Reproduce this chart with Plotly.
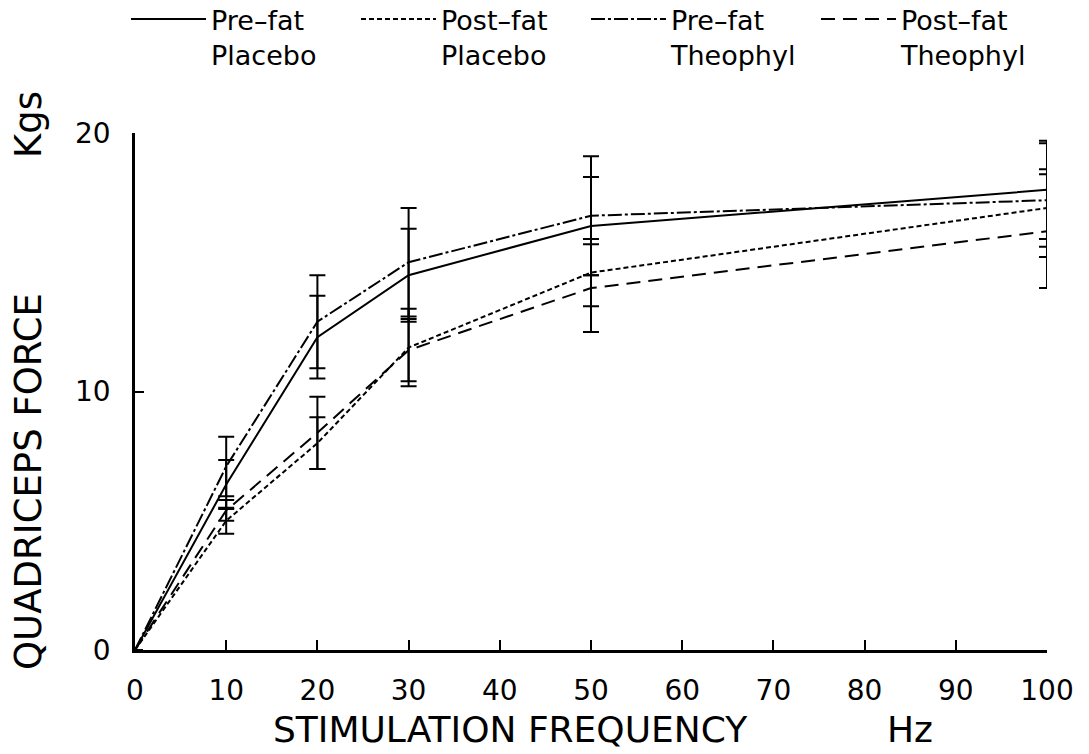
import plotly.graph_objects as go

freq = [0, 10, 20, 30, 50, 100]

pre_placebo = [0, 6.4, 12.1, 14.5, 16.4, 17.8]
pre_placebo_err = [None, 0.95, 1.6, 1.8, 1.9, 1.9]

post_placebo = [0, 5.0, 8.0, 11.7, 14.6, 17.1]
post_placebo_err = [None, 0.5, 1.0, 1.5, 1.3, 1.5]

pre_theo = [0, 7.1, 12.7, 15.0, 16.8, 17.4]
pre_theo_err = [None, 1.15, 1.8, 2.1, 2.3, 2.2]

post_theo = [0, 5.4, 8.4, 11.6, 14.0, 16.2]
post_theo_err = [None, 0.4, 1.4, 1.2, 1.7, 2.2]

series = [
    ("Pre\u2013fat<br>Placebo", pre_placebo, pre_placebo_err, "solid"),
    ("Post\u2013fat<br>Placebo", post_placebo, post_placebo_err, "5px,3px"),
    ("Pre\u2013fat<br>Theophyl", pre_theo, pre_theo_err, "14px,3px,3px,3px"),
    ("Post\u2013fat<br>Theophyl", post_theo, post_theo_err, "14px,8px"),
]

FONT = "DejaVu Sans"

# plot area in pixels: x 135..1047, y 133..650
L, R, T, B = 135, 42, 133, 104
PW, PH = 1089 - L - R, 754 - T - B

fig = go.Figure()
for name, vals, errs, dash in series:
    fig.add_trace(go.Scatter(
        x=freq, y=vals, name=name, mode="lines",
        line=dict(color="black", width=2, dash=dash),
        error_y=dict(type="data", array=errs, symmetric=True,
                     color="black", thickness=2, width=8),
    ))

def px_x(p):
    return (p - L) / PW

def px_y(p):
    return (754 - B - p) / PH

fig.update_layout(
    width=1089, height=754,
    paper_bgcolor="white", plot_bgcolor="white",
    margin=dict(l=L, r=R, t=T, b=B, autoexpand=False),
    font=dict(family=FONT, color="black", size=28),
    showlegend=True,
    legend=dict(
        orientation="h", x=px_x(126), y=px_y(-5), xanchor="left", yanchor="top",
        font=dict(size=27, family=FONT), valign="top",
        entrywidth=140, entrywidthmode="pixels", itemwidth=75,
        bgcolor="rgba(0,0,0,0)", traceorder="normal",
    ),
    xaxis=dict(
        range=[0, 100], tickmode="array", tickvals=list(range(0, 101, 10)),
        showline=True, linecolor="black", linewidth=2.5,
        ticks="inside", ticklen=10, tickwidth=2, tickcolor="black",
        showgrid=False, zeroline=False, ticklabelstandoff=14,
        tickfont=dict(size=28, family=FONT),
    ),
    yaxis=dict(
        range=[0, 20], tickmode="array", tickvals=[0, 10, 20],
        showline=True, linecolor="black", linewidth=2.5,
        ticks="inside", ticklen=9, tickwidth=2, tickcolor="black",
        showgrid=False, zeroline=False, ticklabelstandoff=16,
        tickfont=dict(size=28, family=FONT),
    ),
    annotations=[
        dict(text="STIMULATION FREQUENCY", xref="paper", yref="paper",
             x=px_x(510), y=px_y(729), showarrow=False,
             xanchor="center", yanchor="middle", font=dict(size=36, family=FONT)),
        dict(text="Hz", xref="paper", yref="paper",
             x=px_x(910), y=px_y(729), showarrow=False,
             xanchor="center", yanchor="middle", font=dict(size=36, family=FONT)),
        dict(text="QUADRICEPS FORCE", xref="paper", yref="paper",
             x=px_x(28), y=px_y(482), showarrow=False, textangle=-90,
             xanchor="center", yanchor="middle", font=dict(size=37, family=FONT)),
        dict(text="Kgs", xref="paper", yref="paper",
             x=px_x(28), y=px_y(125), showarrow=False, textangle=-90,
             xanchor="center", yanchor="middle", font=dict(size=37, family=FONT)),
    ],
)

fig.write_html("out.html")
